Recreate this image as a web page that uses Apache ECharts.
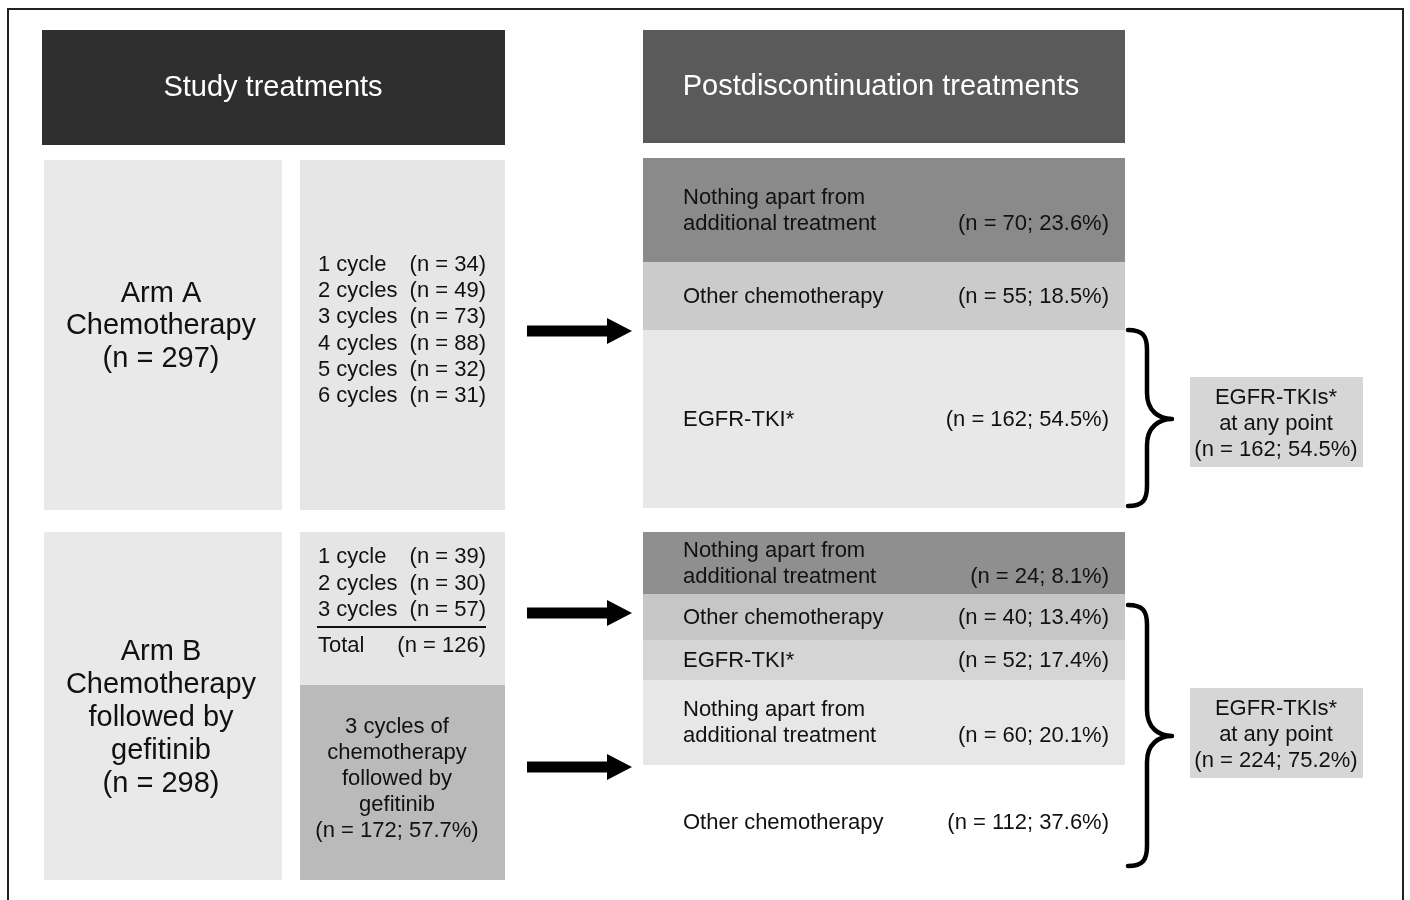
<!DOCTYPE html>
<html>
<head>
<meta charset="utf-8">
<script src="https://cdn.jsdelivr.net/npm/echarts@6/dist/echarts.min.js"></script>
<style>
  html, body { margin: 0; padding: 0; background: #fff; }
  #main { width: 1410px; height: 900px; }
</style>
</head>
<body>
<div id="main"></div>
<script>
// ---- data ----
var headers = ['Study treatments', 'Postdiscontinuation treatments'];
var armNames = ['Arm A', 'Arm B'];
var armRegimens = ['Chemotherapy', 'Chemotherapy\nfollowed by\ngefitinib'];
var armN = [297, 298];

var armACycles = ['1 cycle', '2 cycles', '3 cycles', '4 cycles', '5 cycles', '6 cycles'];
var armACycleN = [34, 49, 73, 88, 32, 31];

var armBCycles = ['1 cycle', '2 cycles', '3 cycles'];
var armBCycleN = [39, 30, 57];
var armBTotalN = 126;
var armBGefitinibLabel = '3 cycles of\nchemotherapy\nfollowed by\ngefitinib';
var armBGefitinibN = 172;
var armBGefitinibPct = 57.7;

var postALabels = ['Nothing apart from\nadditional treatment', 'Other chemotherapy', 'EGFR-TKI*'];
var postAN = [70, 55, 162];
var postAPct = [23.6, 18.5, 54.5];

var postBLabels = ['Nothing apart from\nadditional treatment', 'Other chemotherapy', 'EGFR-TKI*',
                   'Nothing apart from\nadditional treatment', 'Other chemotherapy'];
var postBN = [24, 40, 52, 60, 112];
var postBPct = [8.1, 13.4, 17.4, 20.1, 37.6];

var egfrAnyLabel = 'EGFR-TKIs*\nat any point';
var egfrAnyN = [162, 224];
var egfrAnyPct = [54.5, 75.2];

// ---- layout (diagram units = pixels on a hidden 0..1410 / 0..900 axis pair) ----
var FONT = '"Liberation Sans", Arial, Helvetica, sans-serif';
var postX = [643, 1125];
var postARows = [158, 262, 330, 508];
var postBRows = [532, 594, 640, 680, 765, 880];
var postAFill = ['#8a8a8a', '#cbcbcb', '#e8e8e8'];
var postBFill = ['#8f8f8f', '#c6c6c6', '#d5d5d5', '#e7e7e7', '#ffffff'];

function nText(n, pct) {
    return pct == null ? '(n = ' + n + ')' : '(n = ' + n + '; ' + pct.toFixed(1) + '%)';
}

var shapes = [];
function box(x0, y0, x1, y1, fill) { shapes.push({ kind: 'rect', x0: x0, y0: y0, x1: x1, y1: y1, fill: fill }); }
function txt(x, y, text, opt) {
    opt = opt || {};
    shapes.push({ kind: 'text', x: x, y: y, text: text, align: opt.align || 'center',
        size: opt.size || 22, color: opt.color || '#111', lh: opt.lh || 26 });
}

// outer frame
shapes.push({ kind: 'frame' });

// headers
box(42, 30, 505, 145, '#2f2f2f');
txt(273, 88, headers[0], { size: 29, color: '#fff' });
box(643, 30, 1125, 143, '#5a5a5a');
txt(881, 87, headers[1], { size: 29, color: '#fff' });

// arm A
box(44, 160, 282, 510, '#e9e9e9');
txt(161, 326, armNames[0] + '\n' + armRegimens[0] + '\n(n = ' + armN[0] + ')', { size: 29, lh: 32.5 });
box(300, 160, 505, 510, '#e6e6e6');
armACycles.forEach(function (c, i) {
    var y = 265 + i * 26.2;
    txt(318, y, c, { align: 'left' });
    txt(486, y, nText(armACycleN[i]), { align: 'right' });
});

// arm B
box(44, 532, 282, 880, '#e9e9e9');
txt(161, 718, armNames[1] + '\n' + armRegimens[1] + '\n(n = ' + armN[1] + ')', { size: 29, lh: 33 });
box(300, 532, 505, 685, '#e5e5e5');
armBCycles.forEach(function (c, i) {
    var y = 557 + i * 26.5;
    txt(318, y, c, { align: 'left' });
    txt(486, y, nText(armBCycleN[i]), { align: 'right' });
});
shapes.push({ kind: 'line', x0: 317, y0: 627, x1: 486, y1: 627, w: 2 });
txt(318, 646, 'Total', { align: 'left' });
txt(486, 646, nText(armBTotalN), { align: 'right' });
box(300, 685, 505, 880, '#bababa');
txt(397, 779, armBGefitinibLabel + '\n' + nText(armBGefitinibN, armBGefitinibPct), { size: 22, lh: 26 });

// post-discontinuation rows
function postRows(rows, fills, labels, ns, pcts) {
    labels.forEach(function (lab, i) {
        var y0 = rows[i], y1 = rows[i + 1], cy = (y0 + y1) / 2 + 0.5;
        var nLines = lab.split('\n').length;
        box(postX[0], y0, postX[1], y1, fills[i]);
        txt(683, cy, lab, { align: 'left' });
        txt(1109, cy + (nLines - 1) * 13, nText(ns[i], pcts[i]), { align: 'right' });
    });
}
postRows(postARows, postAFill, postALabels, postAN, postAPct);
postRows(postBRows, postBFill, postBLabels, postBN, postBPct);

// arrows
[331, 613, 767].forEach(function (y) { shapes.push({ kind: 'arrow', x0: 527, x1: 632, y: y }); });

// braces
shapes.push({ kind: 'brace', yT: 330, yM: 419, yB: 506 });
shapes.push({ kind: 'brace', yT: 605, yM: 736, yB: 866 });

// EGFR-TKIs at any point
box(1190, 377, 1363, 467, '#d6d6d6');
txt(1276, 424, egfrAnyLabel + '\n' + nText(egfrAnyN[0], egfrAnyPct[0]));
box(1190, 688, 1363, 778, '#d6d6d6');
txt(1276, 735, egfrAnyLabel + '\n' + nText(egfrAnyN[1], egfrAnyPct[1]));

// ---- render ----
var chart = echarts.init(document.getElementById('main'));

function renderItem(params, api) {
    var s = shapes[api.value(0)];
    var p = function (x, y) { return api.coord([x, y]); };
    if (s.kind === 'rect') {
        var a = p(s.x0, s.y0), b = p(s.x1, s.y1);
        return { type: 'rect', shape: { x: a[0], y: a[1], width: b[0] - a[0], height: b[1] - a[1] },
                 style: { fill: s.fill } };
    }
    if (s.kind === 'text') {
        var q = p(s.x, s.y);
        return { type: 'text', x: q[0], y: q[1],
                 style: { text: s.text, fill: s.color, fontSize: s.size, fontFamily: FONT,
                          align: s.align, verticalAlign: 'middle', lineHeight: s.lh } };
    }
    if (s.kind === 'line') {
        var l0 = p(s.x0, s.y0), l1 = p(s.x1, s.y1);
        return { type: 'line', shape: { x1: l0[0], y1: l0[1], x2: l1[0], y2: l1[1] },
                 style: { stroke: '#111', lineWidth: s.w } };
    }
    if (s.kind === 'frame') {
        return { type: 'polyline', shape: { points: [p(8, 900), p(8, 9), p(1403, 9), p(1403, 900)] },
                 style: { stroke: '#222', lineWidth: 2, fill: null } };
    }
    if (s.kind === 'arrow') {
        var y = s.y, hb = s.x1 - 25;
        return { type: 'polygon', shape: { points: [
                    p(s.x0, y - 5.5), p(hb, y - 5.5), p(hb, y - 13), p(s.x1, y),
                    p(hb, y + 13), p(hb, y + 5.5), p(s.x0, y + 5.5)] },
                 style: { fill: '#000' } };
    }
    if (s.kind === 'brace') {
        var xe = 1128, xv = 1147, xt = 1172;
        var P = function (x, y) { var c = p(x, y); return c[0] + ' ' + c[1]; };
        var d = 'M ' + P(xe, s.yT) +
            ' C ' + P(xv - 4, s.yT) + ' ' + P(xv, s.yT + 6) + ' ' + P(xv, s.yT + 20) +
            ' L ' + P(xv, s.yM - 26) +
            ' C ' + P(xv, s.yM - 8) + ' ' + P(xv + 12, s.yM) + ' ' + P(xt, s.yM) +
            ' C ' + P(xv + 12, s.yM) + ' ' + P(xv, s.yM + 8) + ' ' + P(xv, s.yM + 26) +
            ' L ' + P(xv, s.yB - 20) +
            ' C ' + P(xv, s.yB - 6) + ' ' + P(xv - 4, s.yB) + ' ' + P(xe, s.yB);
        return { type: 'path', shape: { pathData: d },
                 style: { stroke: '#000', lineWidth: 4.5, fill: null, lineCap: 'round', lineJoin: 'round' } };
    }
    return null;
}

var option = {
    animation: false,
    backgroundColor: '#fff',
    grid: { left: 0, right: 0, top: 0, bottom: 0 },
    xAxis: { type: 'value', min: 0, max: 1410, show: false },
    yAxis: { type: 'value', min: 0, max: 900, inverse: true, show: false },
    series: [{
        type: 'custom',
        clip: false,
        renderItem: renderItem,
        encode: { x: 0, y: 1 },
        data: shapes.map(function (s, i) { return [i, 0]; })
    }]
};
chart.setOption(option);
</script>
</body>
</html>
